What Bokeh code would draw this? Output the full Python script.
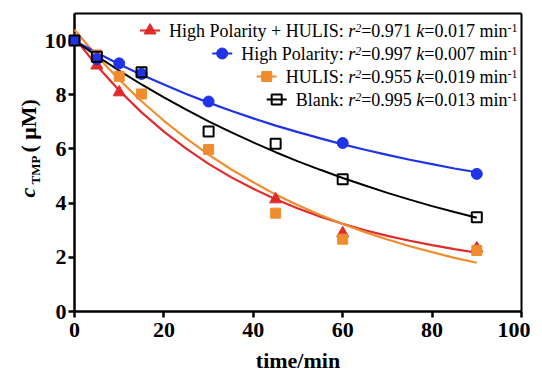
import math
from bokeh.plotting import figure
from bokeh.models import Label, Range1d, FixedTicker, LinearAxis
from bokeh.embed import file_html
from bokeh.resources import INLINE

# ---------------- data ----------------
t_hph = [0, 5, 10, 45, 60, 90]
c_hph = [10.0, 9.08, 8.09, 4.14, 2.89, 2.33]

t_hp = [0, 5, 10, 15, 30, 60, 90]
c_hp = [10.0, 9.32, 9.16, 8.77, 7.75, 6.22, 5.08]

t_hulis = [0, 5, 10, 15, 30, 45, 60, 90]
c_hulis = [10.0, 9.47, 8.68, 8.03, 5.98, 3.63, 2.67, 2.25]

t_blank = [0, 5, 15, 30, 45, 60, 90]
c_blank = [10.0, 9.40, 8.83, 6.64, 6.19, 4.88, 3.48]

# fitted curves
fit_t = [0, 5, 10, 15, 20, 25, 30, 35, 40, 45, 50, 55, 60, 65, 70, 75, 80, 85, 90]
fit_hph = [10.1, 9.07, 8.16, 7.35, 6.64, 6.01, 5.45, 4.96, 4.53, 4.14, 3.80, 3.50, 3.24, 3.00, 2.79, 2.61, 2.45, 2.30, 2.17]
fit_hp = [10.0, 9.55, 9.13, 8.74, 8.38, 8.03, 7.71, 7.41, 7.13, 6.86, 6.62, 6.39, 6.17, 5.97, 5.78, 5.60, 5.44, 5.28, 5.14]
fit_hulis = [10.4, 9.43, 8.56, 7.76, 7.04, 6.39, 5.79, 5.25, 4.77, 4.32, 3.92, 3.56, 3.23, 2.93, 2.66, 2.41, 2.19, 1.98, 1.80]
fit_blank = [10.0, 9.43, 8.89, 8.38, 7.90, 7.45, 7.02, 6.62, 6.24, 5.88, 5.54, 5.23, 4.93, 4.65, 4.38, 4.13, 3.89, 3.67, 3.46]

series_names = ["High Polarity + HULIS", "High Polarity", "HULIS", "Blank"]
series_r2 = ["0.971", "0.997", "0.955", "0.995"]
series_k = ["0.017", "0.007", "0.019", "0.013"]

x_ticks = [0, 20, 40, 60, 80, 100]
y_ticks = [0, 2, 4, 6, 8, 10]
x_title = "time/min"

RED = "#e02a2c"
BLUE = "#1f33e8"
ORANGE = "#f08c2e"
BLACK = "#000000"
FONT = "Liberation Serif"

W, H = 530, 374
# page pixel <-> data: x=0 at px 74, x=100 at px 521; y=0 at py 311, y=11 at py 13
def dx(px):
    return (px - 74) * 100.0 / 447.0

def dy(py):
    return (311 - py) * 11.0 / 298.0

# The frame covers the whole canvas so that every text and mark is drawn unclipped.
p = figure(width=W, height=H, x_range=Range1d(dx(0), dx(W)), y_range=Range1d(dy(H), dy(0)),
           x_axis_type=None, y_axis_type=None, output_backend="svg", toolbar_location=None,
           min_border=0, min_border_left=0, min_border_right=0, min_border_top=0, min_border_bottom=0)
p.grid.visible = False
p.background_fill_color = "white"
p.border_fill_color = "white"
p.outline_line_color = None

def make_axis(ticks, loc, bounds, width, labels=True):
    a = LinearAxis(fixed_location=loc, bounds=bounds, ticker=FixedTicker(ticks=ticks),
                   axis_line_width=width, axis_line_color="black",
                   major_tick_line_width=2.5, major_tick_line_color="black",
                   major_tick_out=6 if labels else 0, major_tick_in=0,
                   minor_tick_out=0, minor_tick_in=0,
                   major_label_text_font=FONT,
                   major_label_text_font_size="22px" if labels else "0px",
                   major_label_text_font_style="bold", major_label_text_color="black")
    return a

xax = make_axis(x_ticks, 0, (0, 100), 2.5)
xax.major_label_standoff = 5
yax = make_axis(y_ticks, 0, (0, 11), 2.5)
yax.major_label_standoff = 2
yax.level = "underlay"
top = make_axis([], 11, (0, 100), 2, labels=False)
right = make_axis([], 100, (0, 11), 2, labels=False)
p.add_layout(xax, "below")
p.add_layout(yax, "left")
p.add_layout(top, "above")
p.add_layout(right, "right")

# fitted curves
p.line(fit_t, fit_hph, line_color=RED, line_width=2.2)
p.line(fit_t, fit_hulis, line_color=ORANGE, line_width=2.2)
p.line(fit_t, fit_hp, line_color=BLUE, line_width=2.2)
p.line(fit_t, fit_blank, line_color=BLACK, line_width=2.0)

# measured points
p.scatter(t_hph, c_hph, marker="triangle", size=12, fill_color=RED, line_color=RED)
p.scatter(t_hulis, c_hulis, marker="square", size=10, fill_color=ORANGE, line_color=ORANGE)
p.scatter(t_hp, c_hp, marker="circle", size=11, fill_color=BLUE, line_color=BLUE)
p.scatter(t_blank, c_blank, marker="square", size=10, fill_color=None, line_color=BLACK, line_width=2)

# Times / Liberation Serif advance widths (per 1000 em)
W_REG = {" ": 250, "+": 564, ".": 250, ":": 278, "=": 564, "-": 333,
         "0": 500, "1": 500, "2": 500, "3": 500, "4": 500, "5": 500, "6": 500, "7": 500, "8": 500, "9": 500,
         "H": 722, "P": 556, "U": 722, "L": 611, "I": 333, "S": 556, "B": 667,
         "a": 444, "g": 500, "h": 500, "i": 278, "k": 500, "l": 278, "m": 778, "n": 500,
         "o": 500, "r": 333, "t": 278, "y": 500}
W_IT = {"r": 389, "k": 444, "2": 500}

def text_w(s, style, size):
    tbl = W_IT if style == "italic" else W_REG
    return sum(tbl.get(ch, W_REG.get(ch, 500)) for ch in s) / 1000.0 * size

# ---------------- legend (hand built, rich text) ----------------
legend_specs = [
    (RED, "triangle", RED, 12),
    (BLUE, "circle", BLUE, 11),
    (ORANGE, "square", ORANGE, 10),
    (BLACK, "square", None, 10),
]
row_centers = [30, 53, 76, 99]
RIGHT = 517
for i, name in enumerate(series_names):
    pieces = [
        (name + ": ", "normal", 18, 0),
        ("r", "italic", 18, 0),
        ("2", "italic", 12, 3),
        ("=" + series_r2[i] + " ", "normal", 18, 0),
        ("k", "italic", 18, 0),
        ("=" + series_k[i] + " min", "normal", 18, 0),
        ("-1", "normal", 12, 3),
    ]
    total = sum(text_w(s, st, sz) for s, st, sz, _ in pieces)
    x = RIGHT - total
    yc = row_centers[i]
    for s, st, sz, rise in pieces:
        p.add_layout(Label(x=dx(x), y=dy(yc - rise), text=s, text_font=FONT,
                           text_font_size="%dpx" % sz, text_font_style=st,
                           text_color="black", text_align="left", text_baseline="middle"))
        x += text_w(s, st, sz)
    col, mk, fill, sz = legend_specs[i]
    mc = RIGHT - total - 19
    p.line([dx(mc - 10), dx(mc + 10)], [dy(yc), dy(yc)], line_color=col, line_width=2.2)
    if fill is None:
        p.scatter([dx(mc)], [dy(yc)], marker=mk, size=sz, fill_color=None, line_color=col, line_width=2)
    else:
        p.scatter([dx(mc)], [dy(yc)], marker=mk, size=sz, fill_color=fill, line_color=col)

# ---------------- axis titles ----------------
p.add_layout(Label(x=dx(297.5), y=dy(360), text=x_title, text_font=FONT,
                   text_font_size="22px", text_font_style="bold", text_color="black",
                   text_align="center", text_baseline="middle"))

ang = math.pi / 2
p.add_layout(Label(x=dx(27), y=dy(197), text="c", text_font=FONT, angle=ang,
                   text_font_size="22px", text_font_style="bold italic", text_color="black",
                   text_align="left", text_baseline="middle"))
p.add_layout(Label(x=dx(35), y=dy(184), text="TMP", text_font=FONT, angle=ang,
                   text_font_size="13px", text_font_style="bold", text_color="black",
                   text_align="left", text_baseline="middle"))
p.add_layout(Label(x=dx(28), y=dy(152), text="( \u03bcM)", text_font=FONT, angle=ang,
                   text_font_size="22px", text_font_style="bold", text_color="black",
                   text_align="left", text_baseline="middle"))

open("out.html", "w").write(file_html(p, INLINE))
